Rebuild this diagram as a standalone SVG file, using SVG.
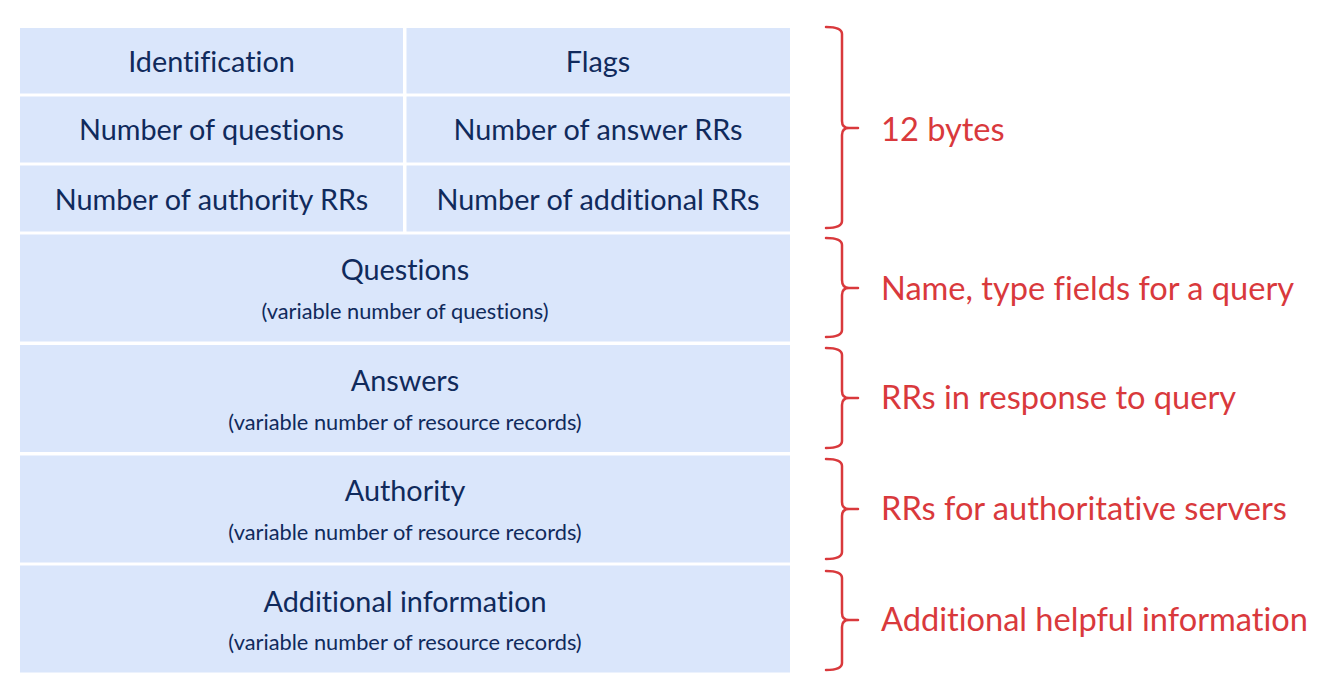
<svg xmlns="http://www.w3.org/2000/svg" width="1334" height="692" viewBox="0 0 1334 692">
<style>
.cell{fill:#dae6fb}
text{font-variant-ligatures:none}
.t{font-family:Lato,"Open Sans",sans-serif;font-size:28.8px;fill:#102a5c;text-anchor:middle}
.s{font-family:Lato,"Open Sans",sans-serif;font-size:21.8px;fill:#102a5c;text-anchor:middle}
.r{font-family:Lato,"Open Sans",sans-serif;font-size:32.6px;fill:#d9393c}
.b{fill:none;stroke:#d9393c;stroke-width:2.5;stroke-linecap:round;stroke-linejoin:round}
</style>
<rect width="1334" height="692" fill="#ffffff"/>
<g id="identification"><rect class="cell" x="20" y="28" width="383" height="65.5"/><text class="t" x="211.5" y="72">Identification</text></g>
<g id="flags"><rect class="cell" x="406.5" y="28" width="383.5" height="65.5"/><text class="t" x="598" y="72">Flags</text></g>
<g id="num-questions"><rect class="cell" x="20" y="96.5" width="383" height="66"/><text class="t" x="211.5" y="140">Number of questions</text></g>
<g id="num-answers"><rect class="cell" x="406.5" y="96.5" width="383.5" height="66"/><text class="t" x="598" y="140">Number of answer RRs</text></g>
<g id="num-authority"><rect class="cell" x="20" y="165.5" width="383" height="66"/><text class="t" x="211.5" y="210">Number of authority RRs</text></g>
<g id="num-additional"><rect class="cell" x="406.5" y="165.5" width="383.5" height="66"/><text class="t" x="598" y="210">Number of additional RRs</text></g>
<g id="questions"><rect class="cell" x="20" y="234.5" width="770" height="107"/><text class="t" x="405" y="280">Questions</text><text class="s" x="405" y="319">(variable number of questions)</text></g>
<g id="answers"><rect class="cell" x="20" y="345" width="770" height="107"/><text class="t" x="405" y="391">Answers</text><text class="s" x="405" y="430">(variable number of resource records)</text></g>
<g id="authority"><rect class="cell" x="20" y="455.5" width="770" height="107"/><text class="t" x="405" y="501">Authority</text><text class="s" x="405" y="540">(variable number of resource records)</text></g>
<g id="additional"><rect class="cell" x="20" y="565.5" width="770" height="107"/><text class="t" x="405" y="612">Additional information</text><text class="s" x="405" y="650">(variable number of resource records)</text></g>
<g id="braces">
<path class="b" d="M826,27 Q842,27 842,34 L842,121 Q842,128 849,128 L858,128 M849,128 Q842,128 842,135 L842,221 Q842,228 826,228"/>
<path class="b" d="M826,238 Q842,238 842,245 L842,280 Q842,288 849,288 L858,288 M849,288 Q842,288 842,295 L842,330 Q842,337 826,337"/>
<path class="b" d="M826,348 Q842,348 842,355 L842,391 Q842,398 849,398 L858,398 M849,398 Q842,398 842,405 L842,441 Q842,448 826,448"/>
<path class="b" d="M826,459 Q842,459 842,466 L842,502 Q842,509 849,509 L858,509 M849,509 Q842,509 842,516 L842,552 Q842,559 826,559"/>
<path class="b" d="M826,571 Q842,571 842,578 L842,613 Q842,620 849,620 L858,620 M849,620 Q842,620 842,627 L842,663 Q842,670 826,670"/>
</g>
<g id="labels">
<text class="r" x="881" y="141">12 bytes</text>
<text class="r" x="881" y="300">Name, type fields for a query</text>
<text class="r" x="881" y="409">RRs in response to query</text>
<text class="r" x="881" y="520">RRs for authoritative servers</text>
<text class="r" x="881" y="631">Additional helpful information</text>
</g>
</svg>
